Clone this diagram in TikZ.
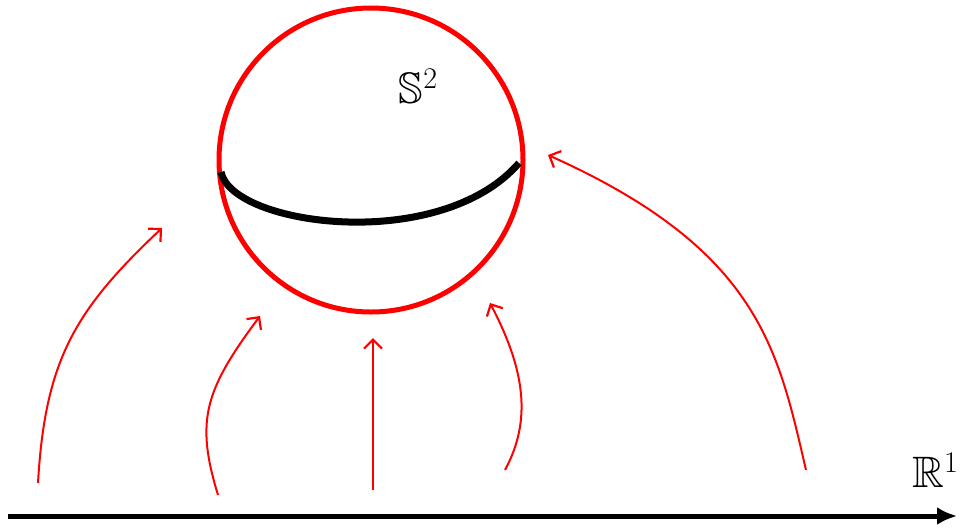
\documentclass[tikz,border=0pt]{standalone}
\usepackage{amssymb}
\usetikzlibrary{arrows.meta}
\newcommand{\bigsup}[1]{\raise15pt\hbox{\fontsize{30}{30}\selectfont #1}}
\begin{document}
\begin{tikzpicture}[x=1pt,y=-1pt,
  redarrow/.style={red,line width=2pt,-{Straight Barb[length=9pt,width=18pt,line width=2.2pt]}},
  lbl/.style={font=\fontsize{44}{52}\selectfont,inner sep=0pt}]
\useasboundingbox (0,0) rectangle (961,528);
\coordinate (c) at (371,160);
\draw[red,line width=5pt] (c) circle[radius=152];
\draw[black,line width=7pt] (221,172) .. controls (232,226) and (440,254) .. (519,163);
\node[lbl] (s) at (418,86) {$\mathbb{S}$\bigsup{2}};
\node[lbl] (r) at (935,470) {$\mathbb{R}$\bigsup{1}};
\coordinate (a0) at (8,516);
\coordinate (a1) at (957,516);
\draw[black,line width=5pt,-{Latex[length=20pt,width=18pt]}] (a0) -- (a1);
\coordinate (p1) at (38,483); \coordinate (q1) at (162,228);
\coordinate (p2) at (218,495); \coordinate (q2) at (260,316);
\coordinate (p3) at (373,490); \coordinate (q3) at (373,338);
\coordinate (p4) at (505,470); \coordinate (q4) at (490,303);
\coordinate (p5) at (806,470); \coordinate (q5) at (548,155);
\draw[redarrow] (p1) .. controls (45,360) and (75,310) .. (q1);
\draw[redarrow] (p2) .. controls (195,420) and (205,390) .. (q2);
\draw[redarrow] (p3) -- (q3);
\draw[redarrow] (p4) .. controls (532,420) and (525,370) .. (q4);
\draw[redarrow] (p5) .. controls (778,350) and (760,250) .. (q5);
\end{tikzpicture}
\end{document}
